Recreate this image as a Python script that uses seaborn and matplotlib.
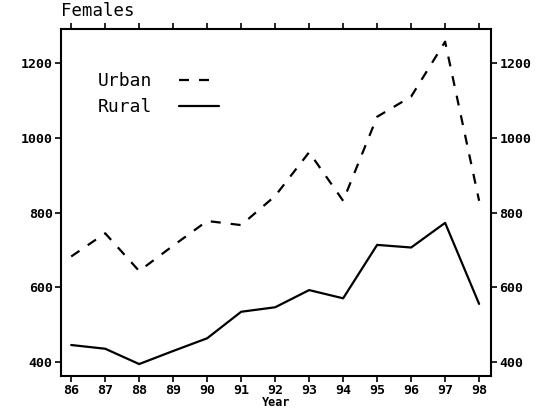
import pandas as pd
import matplotlib.pyplot as plt
import seaborn as sns
from matplotlib.lines import Line2D

sns.set_theme(style="ticks")
plt.rcParams['font.family'] = ['DejaVu Sans Mono', 'DejaVu Sans']
plt.rcParams['text.color'] = 'black'

years = [86, 87, 88, 89, 90, 91, 92, 93, 94, 95, 96, 97, 98]
year_labels = [str(y) for y in years]
urban = [683, 745, 644, 712, 778, 767, 845, 962, 832, 1057, 1111, 1258, 832]
rural = [446, 436, 395, 430, 464, 535, 547, 593, 571, 714, 707, 773, 556]
y_ticks = [400, 600, 800, 1000, 1200]

df = pd.DataFrame({
    "Year": years * 2,
    "Count": urban + rural,
    "Area": ["Urban"] * len(years) + ["Rural"] * len(years),
})

fig = plt.figure(figsize=(5.48, 4.17), dpi=100)
ax = fig.add_axes([0.1113, 0.0983, 0.7847, 0.8322])

sns.lineplot(data=df, x="Year", y="Count", style="Area",
             dashes={"Urban": (4.5, 4.5), "Rural": ""},
             color="black", linewidth=1.6, legend=False, ax=ax)

ax.set_xlim(85.7, 98.35)
ax.set_ylim(363, 1292)
ax.set_xticks(years)
ax.set_xticklabels(year_labels, fontweight="bold", fontsize=9.5)
ax.set_yticks(y_ticks)
ax.set_yticklabels([str(v) for v in y_ticks], fontweight="bold", fontsize=9.5)
ax.set_xlabel("Year", fontweight="bold", fontsize=8.5, labelpad=-1, color="black")
ax.set_ylabel("")

ax.tick_params(axis="both", direction="out", length=4, width=1.2, colors="black",
               top=True, right=True, labelright=True, pad=2)
for s in ax.spines.values():
    s.set_visible(True)
    s.set_linewidth(1.5)
    s.set_color("black")
ax.grid(False)

handles = [Line2D([], [], color="black", lw=1.6, dashes=(4.5, 4.5)),
           Line2D([], [], color="black", lw=1.6)]
leg = ax.legend(handles, ["Urban", "Rural"], loc="upper left", bbox_to_anchor=(0.086, 0.876),
                frameon=False, markerfirst=False, fontsize=13, handlelength=2.2,
                handletextpad=1.5, labelspacing=0.45, borderpad=0, borderaxespad=0)
for t in leg.get_texts():
    t.set_color("black")

ax.text(0.0, 1.025, "Females", transform=ax.transAxes, fontsize=12.5, ha="left",
        va="bottom", color="black")

fig.savefig("out.png", dpi=100)
plt.close(fig)
